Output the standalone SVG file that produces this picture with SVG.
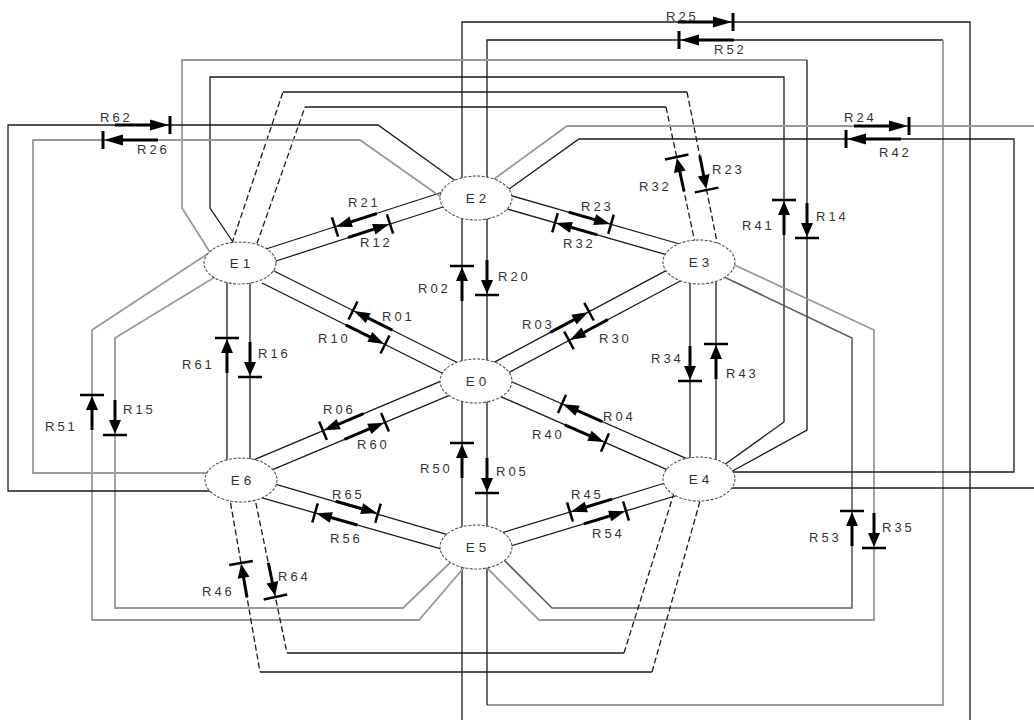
<svg xmlns="http://www.w3.org/2000/svg" width="1034" height="720" viewBox="0 0 1034 720">
<style>
.k{fill:none;stroke:#1a1a1a;stroke-width:1.3}
.g{fill:none;stroke:#9a9a9a;stroke-width:1.8}
.m{fill:none;stroke:#606060;stroke-width:1.6}
.d{fill:none;stroke:#1a1a1a;stroke-width:1.3;stroke-dasharray:6 3}
.lbl{font-family:"Liberation Sans",Arial,sans-serif;font-size:13px;letter-spacing:3px;fill:#333}
.node ellipse{fill:#fff;stroke:#555;stroke-width:1.1;stroke-dasharray:3 1.5}
.node text{font-family:"Liberation Sans",Arial,sans-serif;font-size:13.5px;letter-spacing:4px;fill:#333;text-anchor:middle}
</style>
<defs>
<g id="rl"><line x1="-55" y1="0" x2="-15" y2="0" stroke="#000" stroke-width="3"/><polygon points="-1,0 -20,-5.5 -20,5.5" fill="#000"/><line x1="0" y1="-9" x2="0" y2="9" stroke="#000" stroke-width="3"/></g>
<g id="rm"><line x1="-44" y1="0" x2="-12" y2="0" stroke="#000" stroke-width="3"/><polygon points="-1,0 -17,-5.5 -17,5.5" fill="#000"/><line x1="0" y1="-10" x2="0" y2="10" stroke="#000" stroke-width="2.5"/></g>
<g id="rs"><line x1="-35" y1="0" x2="-10" y2="0" stroke="#000" stroke-width="3"/><polygon points="-1,0 -15,-6 -15,6" fill="#000"/><line x1="0" y1="-12" x2="0" y2="12" stroke="#000" stroke-width="2.5"/></g>
</defs>
<rect width="1034" height="720" fill="#fff"/>
<g id="connectors">
<path class="k" d="M266,249 L446,191"/>
<path class="k" d="M273,262 L446,206"/>
<path class="k" d="M268,268 L458,363"/>
<path class="k" d="M262,283 L452,378"/>
<path class="k" d="M494,362.4 L680,263.1"/>
<path class="k" d="M500,377.2 L685,278.5"/>
<path class="k" d="M495,374.4 L690,460.1"/>
<path class="k" d="M495,394.1 L680,475.4"/>
<path class="k" d="M250,461.5 L460,373.1"/>
<path class="k" d="M262,474.1 L460,390.8"/>
<path class="k" d="M265,481.1 L455,536.9"/>
<path class="k" d="M262,497.8 L455,552.8"/>
<path class="k" d="M495,534.9 L680,478.5"/>
<path class="k" d="M495,550.9 L680,494.5"/>
<path class="k" d="M500,192.4 L690,247"/>
<path class="k" d="M500,207 L680,258.6"/>
<path class="k" d="M462,210 V370 M487,210 V370 M462,392 V540 M487,392 V540 M227,275 V470 M250,275 V470 M690,275 V468 M716,275 V468"/>
<path class="k" d="M462,185 V22 H970 V720"/>
<path class="k" d="M462,555 V720"/>
<path class="k" d="M487,185 V40 H943"/>
<path class="g" d="M943,40 V705 H487"/>
<path class="k" d="M487,705 V555"/>
<path class="g" d="M213,257 L182,208 V60 H807"/>
<path class="k" d="M807,60 V430 L727,474"/>
<path class="k" d="M237,248 L210,208 V77 H784 V422 L724,465"/>
<path class="d" d="M229,252 L283,92"/>
<path class="k" d="M283,92 H687"/>
<path class="d" d="M687,92 L719,252"/>
<path class="d" d="M254,252 L305,107"/>
<path class="k" d="M305,107 H666"/>
<path class="d" d="M666,107 L697,252"/>
<path class="g" d="M212,251 L92,330 V620 H419 L467,564"/>
<path class="g" d="M220,274 L115,338 V608 H403 L455,558"/>
<path class="g" d="M726,261 L874,330 V620 H539 L485,566"/>
<path class="m" d="M720,275 L852,338 V608 H552 L496,552"/>
<path class="k" d="M460,184 L378,125 H8 V491 H215"/>
<path class="g" d="M448,202 L360,140 H33 V473 H215"/>
<path class="g" d="M490,182 L567,126 H1034"/>
<path class="k" d="M725,488 H1034"/>
<path class="k" d="M502,194 L579,139 H1014 V472 H725"/>
<path class="d" d="M229,494 L260,672"/>
<path class="k" d="M260,672 H652"/>
<path class="d" d="M652,672 L702,494"/>
<path class="d" d="M254,494 L287,653"/>
<path class="k" d="M287,653 H624"/>
<path class="d" d="M624,653 L675,490"/>
<use href="#rl" transform="translate(733,22)"/>
<use href="#rl" transform="translate(679,40) rotate(180)"/>
<use href="#rl" transform="translate(170,125)"/>
<use href="#rl" transform="translate(103,140) rotate(180)"/>
<use href="#rl" transform="translate(909,126)"/>
<use href="#rl" transform="translate(846,139) rotate(180)"/>
<use href="#rs" transform="translate(676.7,157) rotate(-102.1)"/>
<use href="#rs" transform="translate(706.6,190) rotate(78.7)"/>
<use href="#rs" transform="translate(784,200) rotate(-90)"/>
<use href="#rs" transform="translate(807,238) rotate(90)"/>
<use href="#rm" transform="translate(335,227) rotate(162.1)"/>
<use href="#rm" transform="translate(390,224) rotate(-17.9)"/>
<use href="#rm" transform="translate(611,224.3) rotate(16)"/>
<use href="#rm" transform="translate(555,222.7) rotate(196)"/>
<use href="#rs" transform="translate(462,266) rotate(-90)"/>
<use href="#rs" transform="translate(487,295) rotate(90)"/>
<use href="#rm" transform="translate(353,310.5) rotate(-153.4)"/>
<use href="#rm" transform="translate(385,344.5) rotate(26.6)"/>
<use href="#rm" transform="translate(589,311.7) rotate(-28.1)"/>
<use href="#rm" transform="translate(569,340.4) rotate(151.9)"/>
<use href="#rs" transform="translate(227,338) rotate(-90)"/>
<use href="#rs" transform="translate(250,377) rotate(90)"/>
<use href="#rs" transform="translate(690,381) rotate(90)"/>
<use href="#rs" transform="translate(716,344) rotate(-90)"/>
<use href="#rs" transform="translate(92,395) rotate(-90)"/>
<use href="#rs" transform="translate(115,435) rotate(90)"/>
<use href="#rm" transform="translate(323,430.7) rotate(157.2)"/>
<use href="#rm" transform="translate(385,422.3) rotate(-22.8)"/>
<use href="#rm" transform="translate(562,403.9) rotate(-156.3)"/>
<use href="#rm" transform="translate(605,442.5) rotate(23.7)"/>
<use href="#rs" transform="translate(462,443) rotate(-90)"/>
<use href="#rs" transform="translate(487,493) rotate(90)"/>
<use href="#rm" transform="translate(378,513.3) rotate(15.9)"/>
<use href="#rm" transform="translate(315,512.9) rotate(195.9)"/>
<use href="#rm" transform="translate(570,512) rotate(163)"/>
<use href="#rm" transform="translate(626,511) rotate(-17)"/>
<use href="#rs" transform="translate(852,511) rotate(-90)"/>
<use href="#rs" transform="translate(874,548) rotate(90)"/>
<use href="#rs" transform="translate(241,563) rotate(-99.9)"/>
<use href="#rs" transform="translate(275.4,597) rotate(78.3)"/>
<text class="lbl" x="666" y="21">R25</text>
<text class="lbl" x="714" y="54">R52</text>
<text class="lbl" x="100" y="122">R62</text>
<text class="lbl" x="137" y="154">R26</text>
<text class="lbl" x="844" y="122">R24</text>
<text class="lbl" x="879" y="157">R42</text>
<text class="lbl" x="639" y="191">R32</text>
<text class="lbl" x="712" y="174">R23</text>
<text class="lbl" x="742" y="230">R41</text>
<text class="lbl" x="816" y="221">R14</text>
<text class="lbl" x="348" y="207">R21</text>
<text class="lbl" x="360" y="247">R12</text>
<text class="lbl" x="581" y="211">R23</text>
<text class="lbl" x="563" y="248">R32</text>
<text class="lbl" x="418" y="293">R02</text>
<text class="lbl" x="498" y="281">R20</text>
<text class="lbl" x="382" y="321">R01</text>
<text class="lbl" x="318" y="343">R10</text>
<text class="lbl" x="522" y="329">R03</text>
<text class="lbl" x="599" y="343">R30</text>
<text class="lbl" x="182" y="369">R61</text>
<text class="lbl" x="258" y="358">R16</text>
<text class="lbl" x="651" y="363">R34</text>
<text class="lbl" x="726" y="378">R43</text>
<text class="lbl" x="45" y="431">R51</text>
<text class="lbl" x="123" y="414">R15</text>
<text class="lbl" x="323" y="414">R06</text>
<text class="lbl" x="357" y="449">R60</text>
<text class="lbl" x="603" y="421">R04</text>
<text class="lbl" x="532" y="439">R40</text>
<text class="lbl" x="420" y="473">R50</text>
<text class="lbl" x="496" y="476">R05</text>
<text class="lbl" x="332" y="499">R65</text>
<text class="lbl" x="330" y="543">R56</text>
<text class="lbl" x="571" y="499">R45</text>
<text class="lbl" x="592" y="538">R54</text>
<text class="lbl" x="809" y="542">R53</text>
<text class="lbl" x="882" y="532">R35</text>
<text class="lbl" x="202" y="596">R46</text>
<text class="lbl" x="278" y="581">R64</text>
</g>
<g id="node-E2" class="node"><ellipse cx="476" cy="198" rx="36" ry="22"/><text x="478" y="203">E2</text></g>
<g id="node-E1" class="node"><ellipse cx="240" cy="263" rx="36" ry="21"/><text x="242" y="268">E1</text></g>
<g id="node-E3" class="node"><ellipse cx="699" cy="262" rx="36" ry="22"/><text x="701" y="267">E3</text></g>
<g id="node-E0" class="node"><ellipse cx="476" cy="381" rx="36" ry="22"/><text x="478" y="386">E0</text></g>
<g id="node-E6" class="node"><ellipse cx="241" cy="480" rx="36" ry="22"/><text x="243" y="485">E6</text></g>
<g id="node-E4" class="node"><ellipse cx="699" cy="479" rx="36" ry="22"/><text x="701" y="484">E4</text></g>
<g id="node-E5" class="node"><ellipse cx="476" cy="547" rx="36" ry="22"/><text x="478" y="552">E5</text></g>
</svg>
